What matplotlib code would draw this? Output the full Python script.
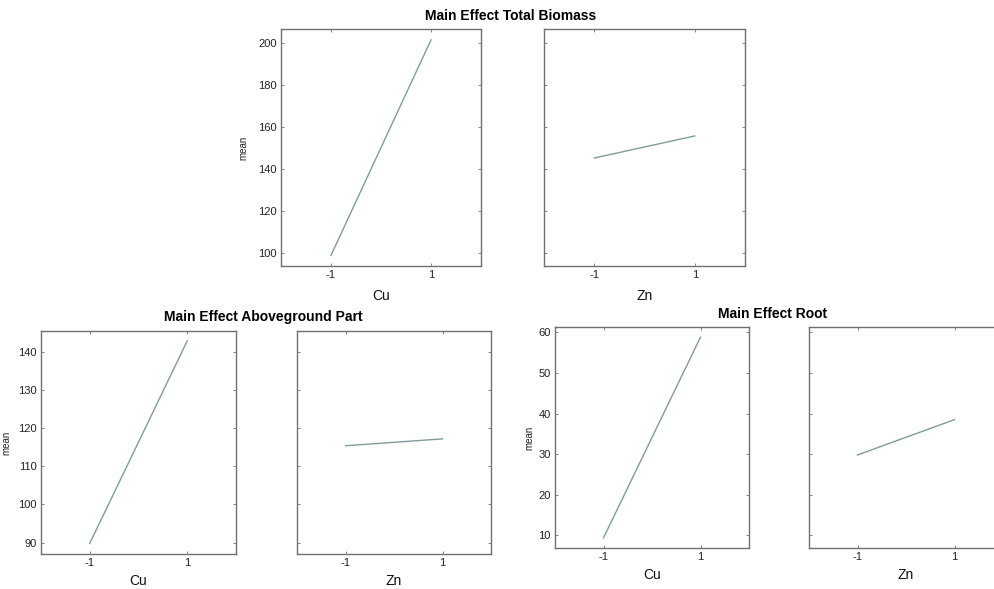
import matplotlib
matplotlib.use("Agg")
import matplotlib.pyplot as plt
import numpy as np

plt.rcParams['font.family'] = ['Liberation Sans', 'DejaVu Sans']

levels = [-1, 1]
# main effect means
total_cu = [98.8, 201.3]
total_zn = [145.1, 155.6]
above_cu = [89.8, 142.9]
above_zn = [115.4, 117.2]
root_cu = [9.4, 58.8]
root_zn = [29.8, 38.5]

total_yticks = [100, 120, 140, 160, 180, 200]
above_yticks = [90, 100, 110, 120, 130, 140]
root_yticks = [10, 20, 30, 40, 50, 60]

W, H = 994, 589
fig = plt.figure(figsize=(W / 100, H / 100), dpi=100)

linecol = '#7f9c9c'
spinecol = '#707070'


def px_axes(x0, x1, y0, y1):
    return fig.add_axes([x0 / W, 1 - y1 / H, (x1 - x0) / W, (y1 - y0) / H])


def effect(ax, vals, yticks, ylim, xlab, ylab=None, xpad=8, ypad=10):
    ax.plot(levels, vals, color=linecol, lw=1.0)
    ax.set_xlim(-2, 2)
    ax.set_ylim(*ylim)
    ax.set_xticks(levels)
    ax.set_xticklabels(['-1', '1'])
    ax.set_yticks(yticks)
    for s in ax.spines.values():
        s.set_color(spinecol)
        s.set_linewidth(1.0)
    ax.tick_params(direction='in', length=2, width=0.6, colors=spinecol,
                   labelcolor='#222222', labelsize=8, top=True, right=True, pad=3)
    ax.set_xlabel(xlab, fontsize=10, labelpad=xpad, color='#111111')
    if ylab:
        ax.set_ylabel(ylab, fontsize=7, labelpad=ypad, color='#222222')
    else:
        ax.set_yticklabels([])


# top group
a1 = px_axes(281, 481, 29, 266)
effect(a1, total_cu, total_yticks, (93.7, 206.5), 'Cu', 'mean', ypad=7, xpad=6)
a2 = px_axes(544, 745, 29, 266)
effect(a2, total_zn, total_yticks, (93.7, 206.5), 'Zn', xpad=6)
fig.text(511 / W, 1 - 16 / H, 'Main Effect Total Biomass', ha='center', va='center',
         fontsize=10, fontweight='bold')

# bottom left group
b1 = px_axes(41, 236, 331, 554)
effect(b1, above_cu, above_yticks, (87.0, 145.5), 'Cu', 'mean', ypad=5, xpad=4)
b2 = px_axes(297, 491, 331, 554)
effect(b2, above_zn, above_yticks, (87.0, 145.5), 'Zn', xpad=4)
fig.text(263 / W, 1 - 317 / H, 'Main Effect Aboveground Part', ha='center', va='center',
         fontsize=10, fontweight='bold')

# bottom right group
c1 = px_axes(555, 749, 327, 548)
effect(c1, root_cu, root_yticks, (6.9, 61.3), 'Cu', 'mean', ypad=3, xpad=4)
c2 = px_axes(809, 1003, 327, 548)
effect(c2, root_zn, root_yticks, (6.9, 61.3), 'Zn', xpad=4)
fig.text(773 / W, 1 - 314 / H, 'Main Effect Root', ha='center', va='center',
         fontsize=10, fontweight='bold')

fig.savefig('out.png', dpi=100)
